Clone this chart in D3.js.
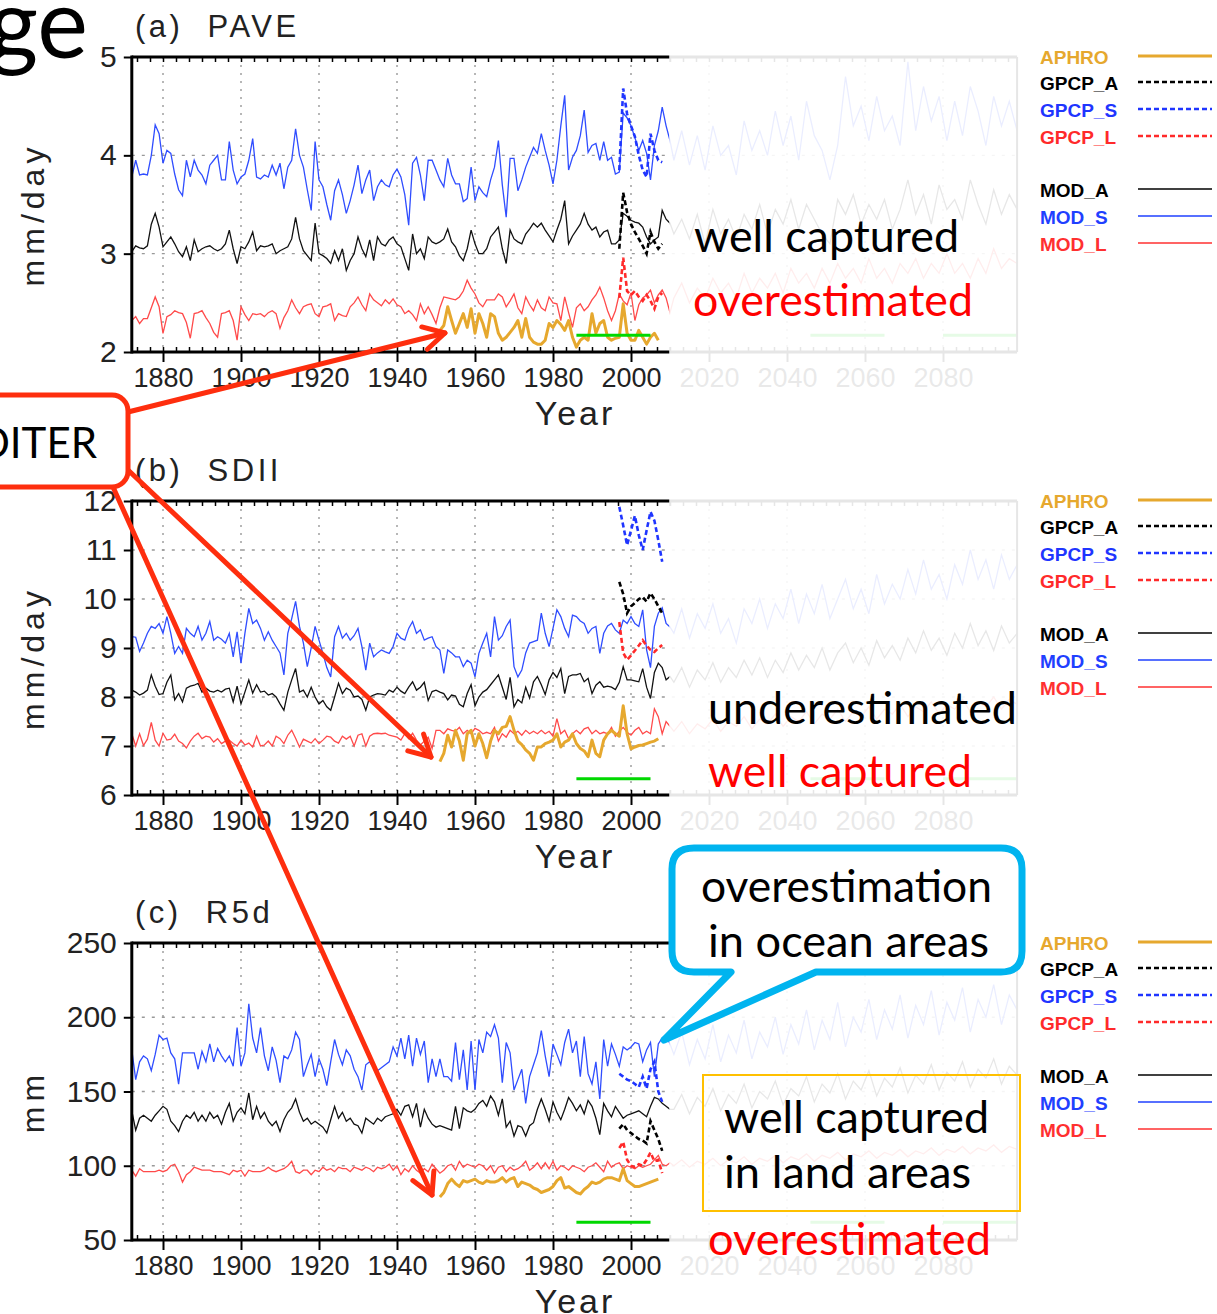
<!DOCTYPE html>
<html>
<head>
<meta charset="utf-8">
<script src="https://cdn.jsdelivr.net/npm/d3@7"></script>
<style>
  body { margin: 0; background: #fff; }
  svg { display: block; }
</style>
</head>
<body>
<div id="chart"></div>
<script>
// years
const firstYear = 1872      // model runs, one value a year up to 2010
const futureYear0 = 2011    // faded projection, every 2 years
const futureStep = 2
const gpcpYear0 = 1997
const aphroYear0 = 1951
const periods = [[1986, 2005], [2046, 2065], [2080, 2099]]
const yearTicks = [1880, 1900, 1920, 1940, 1960, 1980, 2000, 2020, 2040, 2060, 2080]
const legendNames = ["APHRO", "GPCP_A", "GPCP_S", "GPCP_L", "MOD_A", "MOD_S", "MOD_L"]

// (a) PAVE
const paveTicks = [2, 3, 4, 5]
const pavePeriod = 2.17
const paveModS = [
  3.78, 3.95, 3.80, 3.81, 3.80, 4.00, 4.31, 4.22, 3.92, 4.05,
  4.02, 3.81, 3.65, 3.59, 3.95, 3.78, 3.95, 3.85, 3.80, 3.71,
  3.90, 3.95, 4.00, 3.75, 3.75, 4.14, 3.85, 3.71, 3.78, 3.81,
  3.95, 4.17, 3.78, 3.76, 3.80, 3.78, 3.90, 3.80, 3.92, 3.66,
  3.88, 3.95, 4.27, 4.00, 3.88, 3.65, 3.44, 4.14, 3.75, 3.68,
  3.50, 3.34, 3.64, 3.75, 3.60, 3.41, 3.54, 3.70, 3.90, 3.61,
  3.75, 3.85, 3.54, 3.68, 3.75, 3.70, 3.68, 3.80, 3.86, 3.78,
  3.60, 3.29, 3.92, 3.98, 3.80, 3.54, 3.95, 3.95, 3.85, 3.75,
  3.68, 3.97, 3.80, 3.71, 3.71, 3.53, 3.56, 3.88, 3.54, 3.68,
  3.62, 3.58, 3.75, 3.88, 4.15, 3.70, 3.37, 3.97, 3.97, 3.64,
  3.75, 3.88, 3.98, 4.08, 4.02, 4.22, 4.05, 3.90, 3.71, 3.95,
  4.30, 4.61, 3.85, 3.98, 4.05, 4.20, 4.46, 4.03, 4.10, 4.12,
  3.95, 4.14, 3.95, 3.98, 3.81, 3.83, 4.43, 4.38, 4.30, 4.18,
  4.05, 4.15, 4.02, 3.75, 4.10, 4.25, 4.49, 4.30, 4.15]
const paveModA = [
  3.02, 3.08, 3.06, 3.05, 3.08, 3.30, 3.41, 3.27, 3.07, 3.12,
  3.17, 3.10, 3.02, 2.97, 3.07, 2.93, 3.14, 3.02, 3.05, 3.07,
  3.08, 3.05, 3.03, 3.05, 3.10, 3.24, 3.05, 2.90, 3.07, 3.05,
  3.12, 3.22, 3.03, 3.08, 3.07, 3.08, 3.10, 3.00, 3.03, 3.05,
  3.07, 3.15, 3.37, 3.15, 3.03, 2.98, 2.93, 3.31, 3.00, 2.98,
  2.95, 2.90, 3.03, 2.93, 3.05, 2.83, 2.93, 3.00, 3.17, 3.05,
  2.97, 3.14, 2.93, 3.17, 3.10, 3.08, 3.14, 3.17, 3.10, 3.07,
  2.95, 2.83, 3.20, 3.00, 3.05, 2.95, 3.17, 3.12, 3.10, 3.12,
  3.15, 3.25, 3.12, 3.07, 2.98, 2.93, 3.05, 3.24, 3.10, 3.00,
  3.00, 3.05, 3.17, 3.22, 3.27, 3.05, 2.90, 3.24, 3.15, 3.12,
  3.10, 3.20, 3.25, 3.31, 3.27, 3.31, 3.24, 3.18, 3.12, 3.24,
  3.35, 3.54, 3.10, 3.18, 3.24, 3.30, 3.41, 3.30, 3.24, 3.27,
  3.17, 3.22, 3.24, 3.10, 3.10, 3.14, 3.41, 3.38, 3.34, 3.32,
  3.31, 3.27, 3.17, 3.10, 3.14, 3.17, 3.44, 3.35, 3.31]
const paveModL = [
  2.32, 2.36, 2.29, 2.34, 2.34, 2.45, 2.56, 2.46, 2.19, 2.36,
  2.38, 2.42, 2.40, 2.39, 2.30, 2.14, 2.39, 2.40, 2.42, 2.35,
  2.29, 2.20, 2.15, 2.39, 2.40, 2.42, 2.32, 2.12, 2.46, 2.38,
  2.32, 2.39, 2.38, 2.39, 2.36, 2.40, 2.42, 2.39, 2.24, 2.35,
  2.42, 2.53, 2.45, 2.39, 2.46, 2.48, 2.49, 2.39, 2.36, 2.46,
  2.47, 2.49, 2.32, 2.39, 2.37, 2.36, 2.46, 2.50, 2.56, 2.48,
  2.42, 2.59, 2.53, 2.50, 2.47, 2.53, 2.49, 2.54, 2.48, 2.46,
  2.39, 2.42, 2.38, 2.32, 2.49, 2.39, 2.46, 2.38, 2.29, 2.45,
  2.56, 2.55, 2.54, 2.53, 2.56, 2.62, 2.73, 2.65, 2.59, 2.50,
  2.46, 2.53, 2.53, 2.53, 2.59, 2.56, 2.46, 2.52, 2.59, 2.45,
  2.39, 2.56, 2.48, 2.42, 2.53, 2.45, 2.42, 2.56, 2.50, 2.49,
  2.32, 2.56, 2.40, 2.25, 2.45, 2.49, 2.42, 2.46, 2.53, 2.58,
  2.66, 2.55, 2.42, 2.32, 2.42, 2.59, 2.52, 2.48, 2.60, 2.32,
  2.48, 2.55, 2.58, 2.63, 2.50, 2.58, 2.63, 2.55, 2.40]
const paveFutS = [3.95, 4.25, 3.90, 4.20, 3.85, 4.30, 4.00, 4.10, 3.80, 4.35, 4.05, 4.25, 4.00, 4.45, 4.10,
  4.40, 3.95, 4.55, 4.20, 4.05, 3.75, 4.10, 4.80, 4.30, 4.50, 4.15, 4.60, 4.25, 4.40, 4.10,
  4.95, 4.25, 4.70, 4.35, 4.60, 4.15, 4.55, 4.20, 4.70, 4.45, 4.10, 4.60, 4.30, 4.55, 4.25]
const paveFutA = [3.20, 3.35, 3.15, 3.40, 3.10, 3.45, 3.20, 3.35, 3.15, 3.40, 3.25, 3.50, 3.20, 3.45, 3.30,
  3.55, 3.25, 3.50, 3.35, 3.20, 3.10, 3.55, 3.40, 3.60, 3.30, 3.50, 3.35, 3.55, 3.25, 3.45,
  3.75, 3.40, 3.60, 3.30, 3.70, 3.45, 3.55, 3.35, 3.75, 3.50, 3.30, 3.65, 3.40, 3.60, 3.45]
const paveFutL = [2.55, 2.70, 2.50, 2.65, 2.55, 2.75, 2.60, 2.70, 2.55, 2.80, 2.60, 2.75, 2.65, 2.80, 2.60,
  2.85, 2.70, 2.80, 2.65, 2.85, 2.70, 2.90, 2.75, 2.85, 2.70, 2.95, 2.75, 2.85, 2.70, 2.90,
  2.80, 2.95, 2.75, 2.90, 2.80, 3.00, 2.80, 2.90, 2.75, 2.95, 2.80, 3.05, 2.85, 2.95, 2.90]
const paveGpcpA = [3.05, 3.62, 3.42, 3.30, 3.22, 3.15, 3.08, 3.00, 3.22, 3.12, 3.05, 3.10]
const paveGpcpS = [3.85, 4.68, 4.42, 4.30, 4.19, 4.00, 3.85, 3.78, 4.22, 4.05, 3.95, 3.93]
const paveGpcpL = [2.55, 2.96, 2.62, 2.58, 2.62, 2.56, 2.52, 2.58, 2.52, 2.44, 2.56, 2.60]
const paveAphro = [
  2.22, 2.27, 2.46, 2.32, 2.19, 2.29, 2.39, 2.25, 2.44, 2.19,
  2.39, 2.29, 2.15, 2.39, 2.36, 2.19, 2.12, 2.15, 2.20, 2.25,
  2.32, 2.15, 2.34, 2.15, 2.10, 2.08, 2.08, 2.12, 2.29, 2.25,
  2.32, 2.28, 2.22, 2.32, 2.15, 2.05, 2.12, 2.15, 2.12, 2.39,
  2.19, 2.29, 2.32, 2.15, 2.12, 2.14, 2.15, 2.49, 2.19, 2.12,
  2.12, 2.22, 2.15, 2.08, 2.15, 2.19, 2.12]

// (b) SDII
const sdiiTicks = [6, 7, 8, 9, 10, 11, 12]
const sdiiPeriod = 6.33
const sdiiModS = [
  9.23, 9.22, 8.93, 9.10, 9.30, 9.44, 9.40, 9.50, 9.30, 9.64,
  9.30, 8.89, 9.03, 8.89, 9.40, 9.30, 9.23, 9.44, 9.16, 9.30,
  9.54, 9.16, 9.23, 9.18, 9.10, 9.30, 8.82, 9.33, 8.69, 9.30,
  9.81, 9.50, 9.57, 9.40, 9.16, 9.33, 9.16, 9.03, 8.90, 8.45,
  9.30, 9.60, 9.95, 9.44, 9.10, 8.62, 9.00, 9.44, 9.16, 8.89,
  8.60, 8.41, 9.23, 9.44, 9.20, 9.30, 9.16, 9.25, 9.40, 9.03,
  8.55, 9.10, 8.82, 8.90, 8.96, 8.92, 8.89, 9.03, 9.30, 9.20,
  9.16, 9.40, 9.54, 9.30, 9.37, 9.16, 9.20, 9.23, 9.03, 8.96,
  8.48, 8.96, 8.90, 8.82, 8.82, 8.62, 8.75, 8.69, 8.41, 8.89,
  9.10, 9.30, 8.82, 9.64, 9.16, 9.25, 9.44, 9.57, 8.62, 8.41,
  8.55, 8.90, 9.10, 9.13, 9.16, 9.71, 9.30, 9.03, 9.40, 9.78,
  9.64, 9.40, 9.23, 9.67, 9.64, 9.55, 9.50, 9.30, 9.40, 9.44,
  8.89, 9.30, 9.45, 9.50, 9.37, 9.30, 9.57, 9.50, 9.64, 9.50,
  9.44, 9.78, 8.96, 8.60, 9.44, 9.71, 9.82, 9.50, 9.43]
const sdiiModA = [
  8.14, 8.10, 8.04, 8.08, 8.14, 8.45, 8.22, 8.05, 8.07, 8.30,
  8.45, 7.94, 8.07, 7.90, 8.18, 8.22, 8.24, 8.28, 8.10, 8.18,
  8.12, 8.10, 8.14, 8.10, 8.16, 8.18, 7.90, 8.22, 7.86, 8.10,
  8.35, 8.08, 8.25, 8.10, 8.12, 8.04, 8.07, 8.00, 7.86, 7.73,
  8.10, 8.35, 8.58, 8.10, 8.14, 8.00, 8.20, 8.00, 7.86, 7.93,
  7.80, 7.73, 8.00, 8.28, 8.07, 8.18, 8.14, 8.00, 8.02, 7.95,
  7.73, 8.00, 8.04, 8.07, 8.06, 8.04, 8.14, 8.10, 8.20, 8.12,
  8.07, 8.20, 8.31, 8.14, 8.20, 8.30, 7.93, 8.11, 8.14, 8.10,
  8.07, 7.94, 8.04, 8.02, 7.85, 7.80, 8.07, 8.25, 7.82, 8.00,
  8.10, 8.15, 8.25, 8.35, 8.45, 8.20, 7.95, 8.40, 7.80, 7.95,
  7.88, 8.20, 7.98, 8.31, 8.42, 8.25, 8.05, 8.35, 8.50, 8.40,
  8.58, 8.07, 8.42, 8.45, 8.45, 8.48, 8.31, 8.38, 8.07, 8.24,
  8.31, 8.20, 8.22, 8.20, 8.15, 8.30, 8.62, 8.35, 8.35, 8.33,
  8.31, 8.58, 8.20, 7.97, 8.50, 8.69, 8.60, 8.35, 8.42]
const sdiiModL = [
  7.25, 7.00, 7.25, 7.01, 7.14, 7.48, 7.12, 7.00, 7.26, 7.12,
  7.14, 7.24, 7.10, 7.05, 6.96, 7.10, 7.20, 7.26, 7.15, 7.20,
  7.18, 7.08, 7.15, 7.05, 7.10, 7.12, 7.05, 7.00, 7.12, 7.02,
  7.06, 6.98, 7.20, 7.00, 7.02, 7.10, 7.00, 7.20, 7.15, 7.05,
  7.22, 7.32, 7.16, 6.98, 7.14, 7.10, 7.06, 7.15, 7.05, 7.12,
  7.20, 7.18, 7.10, 7.06, 7.20, 7.14, 7.20, 7.00, 7.22, 7.25,
  7.00, 7.20, 7.25, 7.26, 7.25, 7.26, 7.22, 7.20, 7.18, 7.12,
  7.25, 7.15, 7.26, 7.12, 7.02, 7.10, 7.18, 6.95, 7.32, 7.32,
  7.25, 7.35, 7.32, 7.30, 7.38, 7.25, 7.32, 7.25, 7.36, 7.32,
  7.25, 7.28, 7.25, 7.38, 7.10, 7.25, 7.18, 7.32, 7.25, 7.30,
  7.22, 7.32, 7.25, 7.30, 7.25, 7.32, 7.25, 7.30, 7.20, 7.56,
  7.25, 7.32, 7.15, 7.25, 7.32, 7.25, 7.35, 7.38, 7.25, 7.32,
  7.25, 7.28, 7.25, 7.38, 7.20, 7.30, 7.38, 7.28, 7.22, 7.32,
  7.38, 7.25, 7.30, 7.25, 7.76, 7.60, 7.25, 7.50, 7.40]
const sdiiFutS = [9.30, 9.80, 9.20, 9.70, 9.40, 9.90, 9.30, 9.60, 9.10, 9.80, 9.50, 10.00, 9.40, 9.90, 9.60,
  10.20, 9.50, 10.10, 9.70, 10.30, 9.60, 10.00, 10.40, 9.80, 10.20, 9.70, 10.50, 9.90, 10.30, 10.00,
  10.60, 10.10, 10.80, 10.20, 10.50, 10.00, 10.70, 10.30, 11.00, 10.40, 10.80, 10.20, 10.90, 10.40, 10.70]
const sdiiFutA = [8.30, 8.60, 8.20, 8.55, 8.35, 8.70, 8.30, 8.60, 8.40, 8.75, 8.45, 8.80, 8.40, 8.75, 8.50,
  8.90, 8.55, 8.85, 8.60, 9.00, 8.55, 8.90, 9.10, 8.70, 9.00, 8.65, 9.15, 8.80, 9.05, 8.75,
  9.20, 8.90, 9.35, 8.95, 9.20, 8.85, 9.30, 9.00, 9.50, 9.05, 9.35, 8.95, 9.45, 9.10, 9.30]
const sdiiFutL = [7.30, 7.50, 7.25, 7.45, 7.35, 7.55, 7.30, 7.50, 7.40, 7.60, 7.35, 7.55, 7.45, 7.65, 7.40,
  7.60, 7.50, 7.70, 7.45, 7.65, 7.55, 7.75, 7.50, 7.70, 7.60, 7.80, 7.55, 7.75, 7.65, 7.85,
  7.60, 7.80, 7.70, 7.90, 7.65, 7.85, 7.75, 7.95, 7.70, 7.90, 7.80, 8.00, 7.75, 7.95, 7.85]
const sdiiGpcpA = [10.35, 10.10, 9.71, 9.85, 9.92, 10.00, 10.04, 9.95, 10.12, 10.00, 9.85, 9.71]
const sdiiGpcpS = [11.88, 11.50, 11.10, 11.40, 11.70, 11.30, 11.00, 11.40, 11.78, 11.60, 11.20, 10.76]
const sdiiGpcpL = [9.53, 8.90, 8.76, 8.85, 8.95, 9.05, 9.16, 9.05, 8.96, 8.92, 9.00, 9.06]
const sdiiAphro = [
  6.68, 6.85, 7.22, 6.98, 7.32, 7.10, 6.71, 7.25, 7.32, 7.00,
  7.25, 7.05, 6.76, 7.10, 7.32, 7.25, 7.38, 7.40, 7.60, 7.32,
  7.10, 7.03, 6.92, 6.85, 6.71, 6.98, 6.98, 7.05, 7.08, 7.12,
  7.25, 6.98, 7.08, 7.12, 7.25, 7.05, 6.95, 6.90, 6.78, 7.12,
  6.85, 6.78, 7.12, 7.25, 7.32, 7.25, 7.20, 7.82, 7.25, 6.94,
  6.98, 7.01, 7.02, 7.05, 7.08, 7.10, 7.15]

// (c) R5d
const r5dTicks = [50, 100, 150, 200, 250]
const r5dPeriod = 62
const r5dModS = [
  178, 158, 170, 174, 172, 164, 175, 188, 185, 186,
  176, 172, 155, 176, 176, 176, 176, 165, 177, 170,
  182, 170, 179, 174, 170, 174, 167, 193, 167, 176,
  209, 186, 176, 193, 174, 164, 180, 171, 156, 174,
  172, 178, 190, 185, 160, 168, 175, 160, 172, 165,
  154, 170, 185, 175, 168, 178, 174, 165, 160, 151,
  168, 170, 166, 164, 166, 168, 170, 180, 174, 186,
  172, 188, 167, 186, 175, 184, 156, 172, 160, 172,
  160, 160, 157, 183, 158, 178, 151, 184, 151, 185,
  176, 190, 187, 195, 186, 156, 183, 176, 151, 158,
  165, 142, 160, 168, 176, 191, 174, 160, 182, 175,
  168, 183, 192, 176, 184, 160, 187, 162, 155, 170,
  145, 185, 167, 182, 175, 167, 180, 178, 180, 183,
  182, 170, 178, 183, 160, 182, 186, 188, 182]
const r5dModA = [
  137, 124, 132, 134, 132, 130, 134, 137, 140, 138,
  130, 127, 123, 130, 134, 132, 136, 130, 134, 130,
  136, 132, 134, 128, 136, 142, 130, 136, 139, 135,
  149, 131, 140, 132, 136, 130, 127, 130, 123, 131,
  136, 139, 145, 136, 130, 132, 128, 130, 128, 126,
  122, 131, 140, 132, 136, 130, 132, 128, 127, 122,
  132, 130, 128, 132, 130, 133, 134, 135, 138, 134,
  140, 141, 133, 142, 126, 138, 132, 128, 126, 127,
  126, 125, 124, 140, 125, 139, 137, 136, 138, 142,
  144, 140, 147, 143, 134, 145, 126, 130, 120, 127,
  126, 120, 127, 129, 138, 145, 138, 130, 143, 136,
  131, 138, 146, 142, 137, 141, 135, 144, 140, 132,
  121, 142, 137, 133, 140, 136, 132, 134, 135, 136,
  137, 135, 133, 140, 146, 145, 142, 140, 138]
const r5dModL = [
  97, 93, 98, 96, 96, 96, 96, 97, 96, 97,
  100, 101, 96, 89, 94, 96, 99, 98, 97, 97,
  97, 96, 96, 96, 95, 94, 97, 96, 97, 93,
  97, 96, 96, 96, 97, 99, 97, 96, 97, 98,
  100, 103, 96, 95, 97, 97, 94, 97, 96, 99,
  97, 98, 96, 99, 98, 98, 96, 99, 98, 97,
  99, 98, 96, 99, 98, 99, 101, 97, 100, 94,
  98, 96, 100, 97, 95, 98, 96, 101, 98, 95,
  97, 100, 101, 97, 103, 99, 101, 100, 99, 101,
  100, 97, 100, 95, 99, 100, 96, 99, 97, 98,
  100, 103, 97, 99, 102, 98, 102, 98, 103, 97,
  100, 99, 97, 100, 99, 98, 96, 99, 100, 102,
  99, 96, 103, 99, 101, 102, 98, 100, 99, 98,
  100, 99, 100, 101, 104, 107, 101, 100, 102]
const r5dFutS = [175, 190, 168, 185, 172, 195, 170, 188, 176, 198, 172, 190, 180, 200, 175,
  195, 182, 205, 178, 198, 185, 210, 180, 200, 190, 212, 185, 205, 192, 215,
  186, 208, 195, 218, 188, 210, 198, 220, 190, 212, 200, 222, 195, 215, 205]
const r5dFutA = [138, 148, 135, 146, 140, 152, 137, 148, 142, 155, 139, 150, 145, 157, 141,
  152, 147, 160, 143, 155, 149, 162, 145, 157, 151, 164, 147, 159, 153, 166,
  149, 161, 155, 168, 151, 163, 157, 170, 153, 165, 159, 172, 155, 167, 161]
const r5dFutL = [100, 104, 99, 103, 101, 105, 100, 104, 102, 106, 101, 105, 103, 107, 102,
  106, 104, 108, 103, 107, 105, 109, 104, 108, 106, 110, 105, 109, 107, 111,
  106, 110, 108, 112, 107, 111, 109, 113, 108, 112, 110, 114, 109, 113, 111]
const r5dGpcpA = [125, 128, 124, 122, 120, 118, 117, 115, 130, 124, 118, 110]
const r5dGpcpS = [162, 160, 158, 157, 155, 153, 160, 152, 165, 170, 150, 143]
const r5dGpcpL = [112, 116, 104, 100, 99, 101, 100, 104, 109, 103, 104, 95]
const r5dAphro = [
  79, 82, 88, 91, 88, 86, 90, 89, 90, 91,
  89, 88, 90, 89, 89, 90, 92, 89, 91, 92,
  86, 89, 88, 87, 85, 84, 82, 83, 84, 86,
  90, 92, 85, 86, 84, 82, 81, 84, 86, 89,
  88, 89, 91, 92, 92, 91, 90, 98, 90, 88,
  86, 86, 87, 88, 89, 90, 91]

// line styles
const styles = {
  APHRO:  {color: "#e6a82e", width: 3, dash: null},
  GPCP_A: {color: "#000000", width: 2.6, dash: "5,3"},
  GPCP_S: {color: "#1f35ff", width: 2.6, dash: "5,3"},
  GPCP_L: {color: "#ff2a2a", width: 2.6, dash: "5,3"},
  MOD_A:  {color: "#111111", width: 1.3, dash: null},
  MOD_S:  {color: "#2f4dff", width: 1.3, dash: null},
  MOD_L:  {color: "#ff4a4a", width: 1.3, dash: null}
}
const legendColors = {APHRO: "#e6a82e", GPCP_A: "#000", GPCP_S: "#1f35ff", GPCP_L: "#ff2a2a",
  MOD_A: "#000", MOD_S: "#1f40ff", MOD_L: "#ff3030"}
const legendOffsets = [-1, 25, 52, 79, 132, 159, 186]

const panels = [
  {title: "(a)  PAVE", unit: "mm/day", top: 57, bottom: 352, ticks: paveTicks, period: pavePeriod,
   mod: {MOD_A: [paveModA, paveFutA], MOD_S: [paveModS, paveFutS], MOD_L: [paveModL, paveFutL]},
   gpcp: {GPCP_A: paveGpcpA, GPCP_S: paveGpcpS, GPCP_L: paveGpcpL}, aphro: paveAphro},
  {title: "(b)  SDII", unit: "mm/day", top: 501, bottom: 795, ticks: sdiiTicks, period: sdiiPeriod,
   mod: {MOD_A: [sdiiModA, sdiiFutA], MOD_S: [sdiiModS, sdiiFutS], MOD_L: [sdiiModL, sdiiFutL]},
   gpcp: {GPCP_A: sdiiGpcpA, GPCP_S: sdiiGpcpS, GPCP_L: sdiiGpcpL}, aphro: sdiiAphro},
  {title: "(c)  R5d", unit: "mm", top: 943, bottom: 1240, ticks: r5dTicks, period: r5dPeriod,
   mod: {MOD_A: [r5dModA, r5dFutA], MOD_S: [r5dModS, r5dFutS], MOD_L: [r5dModL, r5dFutL]},
   gpcp: {GPCP_A: r5dGpcpA, GPCP_S: r5dGpcpS, GPCP_L: r5dGpcpL}, aphro: r5dAphro}
]

const width = 1217
const height = 1314
const gradsFont = "'Liberation Sans', Arial, sans-serif"
const slideFont = "Lato, 'Open Sans', sans-serif"
const red = "#fe2e0e"

const svg = d3.select("#chart").append("svg")
  .attr("width", width)
  .attr("height", height)

// x is shared by all three panels
const x = d3.scaleLinear().domain([1880, 2000]).range([163, 631])
const xL = x(1872)
const xR = x(2099)
const minorYears = d3.range(1880 - 40 / 6, 2099, 20 / 6)

const line = d3.line().x(d => x(d[0])).y(d => d[1])

panels.forEach((p, k) => {
  const y = d3.scaleLinear()
    .domain([p.ticks[0], p.ticks[p.ticks.length - 1]])
    .range([p.bottom, p.top])
  const g = svg.append("g")

  // dotted grid
  g.append("g").selectAll("line").data(yearTicks).join("line")
    .attr("x1", d => x(d)).attr("x2", d => x(d))
    .attr("y1", p.top).attr("y2", p.bottom)
    .attr("stroke", "#999").attr("stroke-width", 1.4).attr("stroke-dasharray", "2,6")
  g.append("g").selectAll("line").data(p.ticks.slice(1, -1)).join("line")
    .attr("x1", xL).attr("x2", xR)
    .attr("y1", d => y(d)).attr("y2", d => y(d))
    .attr("stroke", "#999").attr("stroke-width", 1.4).attr("stroke-dasharray", "3,7")

  const pts = (arr, y0, step) => arr.map((v, i) => [y0 + i * step, y(v)])

  // model runs (historical + projection)
  Object.entries(p.mod).forEach(([name, [hist, fut]]) => {
    const s = styles[name]
    g.append("path")
      .attr("d", line(pts(hist, firstYear, 1).concat(pts(fut, futureYear0, futureStep))))
      .attr("fill", "none").attr("stroke", s.color).attr("stroke-width", s.width)
  })

  // observations
  Object.entries(p.gpcp).forEach(([name, arr]) => {
    const s = styles[name]
    g.append("path")
      .attr("d", line(pts(arr, gpcpYear0, 1)))
      .attr("fill", "none").attr("stroke", s.color).attr("stroke-width", s.width)
      .attr("stroke-dasharray", s.dash)
  })
  g.append("path")
    .attr("d", line(pts(p.aphro, aphroYear0, 1)))
    .attr("fill", "none").attr("stroke", styles.APHRO.color).attr("stroke-width", styles.APHRO.width)
    .attr("stroke-linejoin", "round")

  // comparison periods
  g.append("g").selectAll("line").data(periods).join("line")
    .attr("x1", d => x(d[0])).attr("x2", d => x(d[1]))
    .attr("y1", y(p.period)).attr("y2", y(p.period))
    .attr("stroke", "#00d800").attr("stroke-width", 3)

  // axes
  const xAxis = g.append("g")
    .attr("transform", "translate(0," + p.bottom + ")")
    .call(d3.axisBottom(x).tickValues(yearTicks).tickSize(10).tickPadding(6).tickFormat(d3.format("d")))
  xAxis.select(".domain").remove()
  xAxis.selectAll("line").attr("stroke", "#000").attr("stroke-width", 2)
  xAxis.selectAll("text").attr("font-family", gradsFont).attr("font-size", 27).attr("fill", "#222")

  const minorB = g.append("g").attr("transform", "translate(0," + p.bottom + ")")
    .call(d3.axisBottom(x).tickValues(minorYears).tickSize(-5).tickFormat(""))
  const minorT = g.append("g").attr("transform", "translate(0," + p.top + ")")
    .call(d3.axisTop(x).tickValues(minorYears).tickSize(-5).tickFormat(""))
  ;[minorB, minorT].forEach(a => {
    a.select(".domain").remove()
    a.selectAll("line").attr("stroke", "#000").attr("stroke-width", 1.5)
  })

  const yAxis = g.append("g")
    .attr("transform", "translate(" + xL + ",0)")
    .call(d3.axisLeft(y).tickValues(p.ticks).tickSize(8).tickPadding(7).tickFormat(d3.format("d")))
  yAxis.select(".domain").remove()
  yAxis.selectAll("line").attr("stroke", "#000").attr("stroke-width", 2)
  yAxis.selectAll("text").attr("font-family", gradsFont).attr("font-size", 30).attr("fill", "#222")

  // frame
  g.append("line").attr("x1", xL).attr("x2", xR).attr("y1", p.top).attr("y2", p.top)
    .attr("stroke", "#000").attr("stroke-width", 3)
  g.append("line").attr("x1", xL).attr("x2", xR).attr("y1", p.bottom).attr("y2", p.bottom)
    .attr("stroke", "#000").attr("stroke-width", 3)
  g.append("line").attr("x1", xL).attr("x2", xL).attr("y1", p.top - 1.5).attr("y2", p.bottom + 1.5)
    .attr("stroke", "#000").attr("stroke-width", 3)
  g.append("line").attr("x1", xR).attr("x2", xR).attr("y1", p.top).attr("y2", p.bottom)
    .attr("stroke", "#000").attr("stroke-width", 2)

  // wash over the projection years
  g.append("rect")
    .attr("x", x(2009.8)).attr("y", p.top - 14)
    .attr("width", 1030 - x(2009.8)).attr("height", p.bottom - p.top + 58)
    .attr("fill", "#fff").attr("opacity", 0.9)

  // titles
  g.append("text").attr("x", 135).attr("y", p.top - 20)
    .attr("font-family", gradsFont).attr("font-size", 31).attr("letter-spacing", 3.5)
    .attr("fill", "#222").attr("xml:space", "preserve").style("white-space", "pre")
    .text(p.title)
  g.append("text").attr("x", 575).attr("y", p.bottom + 73)
    .attr("text-anchor", "middle")
    .attr("font-family", gradsFont).attr("font-size", 34).attr("letter-spacing", 3)
    .attr("fill", "#222").text("Year")
  g.append("text")
    .attr("transform", "translate(44," + ((p.top + p.bottom) / 2 + 10) + ") rotate(-90)")
    .attr("text-anchor", "middle")
    .attr("font-family", gradsFont).attr("font-size", 32).attr("letter-spacing", 5)
    .attr("fill", "#222").text(p.unit)

  // legend
  const lg = g.append("g")
  legendNames.forEach((name, i) => {
    const ly = p.top + legendOffsets[i]
    const s = styles[name]
    lg.append("text").attr("x", 1040).attr("y", ly + 8)
      .attr("font-family", gradsFont).attr("font-weight", "bold").attr("font-size", 19)
      .attr("fill", legendColors[name]).text(name)
    lg.append("line").attr("x1", 1138).attr("x2", 1212).attr("y1", ly).attr("y2", ly)
      .attr("stroke", legendColors[name])
      .attr("stroke-width", name === "APHRO" ? 3 : (s.dash ? 2.6 : 1.6))
      .attr("stroke-dasharray", s.dash ? "5,3" : null)
  })
})

// ---- slide annotations ----
const ann = svg.append("g").attr("font-family", slideFont)

ann.append("text").attr("x", 88).attr("y", 58).attr("text-anchor", "end")
  .attr("font-size", 96).attr("fill", "#000").text("ge")

function note(txt, x0, yb, w, color) {
  ann.append("text").attr("x", x0).attr("y", yb)
    .attr("font-size", 44).attr("fill", color)
    .attr("textLength", w).attr("lengthAdjust", "spacingAndGlyphs")
    .text(txt)
}
note("well captured", 694, 252, 265, "#000")
note("overestimated", 693, 316, 280, "#ff0000")
note("underestimated", 708, 724, 309, "#000")
note("well captured", 708, 787, 264, "#ff0000")

// blue callout
ann.append("path")
  .attr("d", "M694,848 H1001 Q1022,848 1022,869 V951 Q1022,972 1001,972 H816 L664,1040 L731,972 H694 Q672,972 672,951 V869 Q672,848 694,848 Z")
  .attr("fill", "#fff").attr("stroke", "#00b4ef").attr("stroke-width", 7).attr("stroke-linejoin", "round")
note("overestimation", 701, 902, 291, "#000")
note("in ocean areas", 708, 957, 281, "#000")

// yellow box
ann.append("rect").attr("x", 703).attr("y", 1075).attr("width", 317).attr("height", 136)
  .attr("fill", "none").attr("stroke", "#ffc000").attr("stroke-width", 2)
note("well captured", 724, 1133, 265, "#000")
note("in land areas", 724, 1188, 247, "#000")
note("overestimated", 708, 1255, 283, "#ff0000")

// red arrows from the label box
function arrow(x1, y1, x2, y2) {
  const a = Math.atan2(y2 - y1, x2 - x1)
  const L = 24, s = 0.5
  const ag = ann.append("g").attr("stroke", red).attr("stroke-width", 5)
    .attr("fill", "none").attr("stroke-linecap", "round").attr("stroke-linejoin", "round")
  ag.append("line").attr("x1", x1).attr("y1", y1).attr("x2", x2).attr("y2", y2)
  ag.append("path").attr("d",
    "M" + (x2 - L * Math.cos(a - s)) + "," + (y2 - L * Math.sin(a - s)) +
    "L" + x2 + "," + y2 +
    "L" + (x2 - L * Math.cos(a + s)) + "," + (y2 - L * Math.sin(a + s)))
}
arrow(128, 412, 445, 333)
arrow(128, 470, 431, 757)
arrow(113, 487, 432, 1195)

ann.append("rect").attr("x", -20).attr("y", 395).attr("width", 148).attr("height", 92).attr("rx", 16)
  .attr("fill", "#fff").attr("stroke", red).attr("stroke-width", 5)
ann.append("text").attr("x", 97).attr("y", 458).attr("text-anchor", "end")
  .attr("font-size", 42).attr("fill", "#000").text("DITER")
</script>
</body>
</html>
